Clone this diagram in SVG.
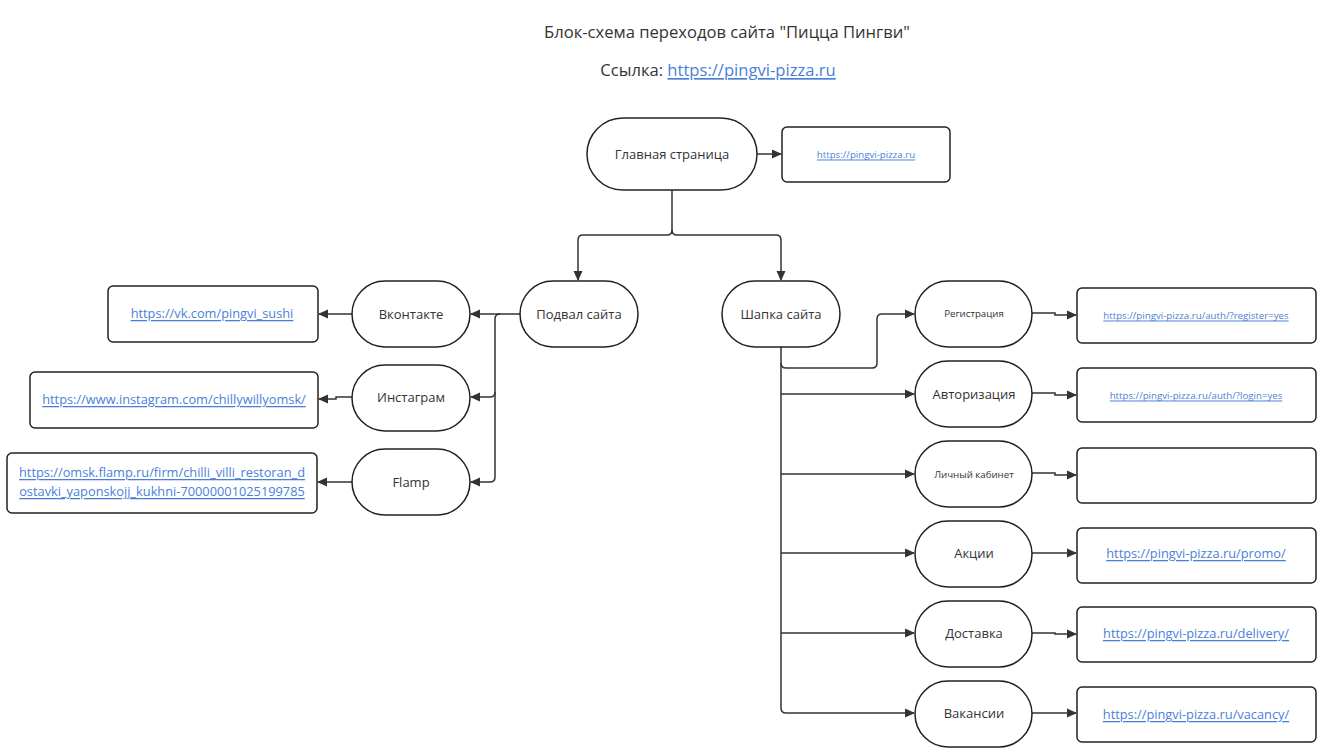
<svg xmlns="http://www.w3.org/2000/svg" width="1327" height="753" viewBox="0 0 1327 753">
<defs>
<marker id="arr" viewBox="0 0 10 10" refX="9" refY="5" markerWidth="10" markerHeight="10" markerUnits="userSpaceOnUse" orient="auto">
<path d="M0,0.5 L10,5 L0,9.5 Z" fill="#333"/>
</marker>
<style>
.st{fill:#fff;stroke:#222;stroke-width:1.5}
.bx{fill:#fff;stroke:#222;stroke-width:1.5}
.lb{font-family:"Open Sans","Liberation Sans",sans-serif;font-size:13px;fill:#333;text-anchor:middle;dominant-baseline:central}
.ln{font-family:"Open Sans","Liberation Sans",sans-serif;font-size:12.8px;fill:#4a7fd9;text-anchor:middle;dominant-baseline:central;text-decoration:underline}
.lb.sm,.ln.sm{font-size:9.7px}
.c{fill:none;stroke:#333;stroke-width:1.5;marker-end:url(#arr)}
.cn{fill:none;stroke:#333;stroke-width:1.5}
</style>
</defs>
<rect width="1327" height="753" fill="#fff"/>
<g id="title">
<text x="727" y="31" class="lb" style="font-size:16.6px">Блок-схема переходов сайта "Пицца Пингви"</text>
<text x="718" y="69" class="lb" style="font-size:16.6px">Ссылка: <tspan fill="#4a7fd9" text-decoration="underline">https://pingvi-pizza.ru</tspan></text>
</g>
<g id="connectors">
<path class="c" d="M757,154 H781"/>
<path class="cn" d="M672,190 V230 Q672,235 667,235 H583 Q578,235 578,240 V280" marker-end="url(#arr)"/>
<path class="cn" d="M672,230 Q672,235 677,235 H776 Q781,235 781,240 V280" marker-end="url(#arr)"/>
<path class="c" d="M520,314 H471"/>
<path class="cn" d="M500,314 Q495,314 495,319 V392 Q495,397 490,397 H471" marker-end="url(#arr)"/>
<path class="cn" d="M495,392 V477 Q495,482 490,482 H471" marker-end="url(#arr)"/>
<path class="c" d="M352,314 H319"/>
<path class="c" d="M352,397 H336 V399 H319"/>
<path class="c" d="M352,482 H318"/>
<path class="cn" d="M781,347 V363 Q781,368 786,368 H872 Q877,368 877,363 V319 Q877,314 882,314 H914" marker-end="url(#arr)"/>
<path class="cn" d="M781,363 V708 Q781,713 786,713 H914" marker-end="url(#arr)"/>
<path class="c" d="M781,394 H914"/>
<path class="c" d="M781,474 H914"/>
<path class="c" d="M781,553 H914"/>
<path class="c" d="M781,633 H914"/>
<path class="c" d="M1032,313 H1055 V315 H1076"/>
<path class="c" d="M1032,393 H1055 V395 H1076"/>
<path class="c" d="M1032,473 H1055 V475 H1076"/>
<path class="c" d="M1032,553 H1076"/>
<path class="c" d="M1032,633 H1055 V634 H1076"/>
<path class="c" d="M1032,713 H1076"/>
</g>
<g id="main"><rect class="st" x="587" y="118" width="170" height="72" rx="36"/><text class="lb" x="672" y="154">Главная страница</text></g>
<g id="main-url"><rect class="bx" x="782" y="127" width="168" height="55" rx="5"/><text class="ln sm" x="866" y="154">https://pingvi-pizza.ru</text></g>
<g id="footer"><rect class="st" x="520" y="281" width="118" height="66" rx="33"/><text class="lb" x="579" y="314">Подвал сайта</text></g>
<g id="header"><rect class="st" x="722" y="281" width="118" height="66" rx="33"/><text class="lb" x="781" y="314">Шапка сайта</text></g>
<g id="vk"><rect class="st" x="352" y="281" width="118" height="66" rx="33"/><text class="lb" x="411" y="314">Вконтакте</text></g>
<g id="insta"><rect class="st" x="352" y="365" width="118" height="66" rx="33"/><text class="lb" x="411" y="397">Инстаграм</text></g>
<g id="flamp"><rect class="st" x="352" y="449" width="118" height="66" rx="33"/><text class="lb" x="411" y="482">Flamp</text></g>
<g id="vk-url"><rect class="bx" x="108" y="286" width="210" height="56" rx="5"/><text class="ln" x="212" y="313">https://vk.com/pingvi_sushi</text></g>
<g id="insta-url"><rect class="bx" x="30" y="372" width="288" height="56" rx="5"/><text class="ln" x="174" y="399">https://www.instagram.com/chillywillyomsk/</text></g>
<g id="flamp-url"><rect class="bx" x="7" y="453" width="310" height="60" rx="5"/><text class="ln" x="162" y="472">https://omsk.flamp.ru/firm/chilli_villi_restoran_d</text><text class="ln" x="162" y="491">ostavki_yaponskojj_kukhni-70000001025199785</text></g>
<g id="reg"><rect class="st" x="915" y="281" width="117" height="66" rx="33"/><text class="lb sm" x="974" y="313">Регистрация</text></g>
<g id="auth"><rect class="st" x="915" y="361" width="117" height="66" rx="33"/><text class="lb" x="974" y="394">Авторизация</text></g>
<g id="cabinet"><rect class="st" x="915" y="441" width="117" height="66" rx="33"/><text class="lb sm" x="974" y="474">Личный кабинет</text></g>
<g id="promo"><rect class="st" x="915" y="521" width="117" height="66" rx="33"/><text class="lb" x="974" y="553">Акции</text></g>
<g id="delivery"><rect class="st" x="915" y="601" width="117" height="66" rx="33"/><text class="lb" x="974" y="633">Доставка</text></g>
<g id="vacancy"><rect class="st" x="915" y="681" width="117" height="66" rx="33"/><text class="lb" x="974" y="713">Вакансии</text></g>
<g id="reg-url"><rect class="bx" x="1077" y="288" width="239" height="55" rx="5"/><text class="ln sm" x="1196" y="315">https://pingvi-pizza.ru/auth/?register=yes</text></g>
<g id="auth-url"><rect class="bx" x="1077" y="368" width="239" height="54" rx="5"/><text class="ln sm" x="1196" y="395">https://pingvi-pizza.ru/auth/?login=yes</text></g>
<g id="cabinet-url"><rect class="bx" x="1077" y="448" width="239" height="55" rx="5"/></g>
<g id="promo-url"><rect class="bx" x="1077" y="528" width="239" height="55" rx="5"/><text class="ln" x="1196" y="553">https://pingvi-pizza.ru/promo/</text></g>
<g id="delivery-url"><rect class="bx" x="1077" y="607" width="239" height="55" rx="5"/><text class="ln" x="1196" y="633">https://pingvi-pizza.ru/delivery/</text></g>
<g id="vacancy-url"><rect class="bx" x="1077" y="687" width="239" height="55" rx="5"/><text class="ln" x="1196" y="714">https://pingvi-pizza.ru/vacancy/</text></g>
</svg>
